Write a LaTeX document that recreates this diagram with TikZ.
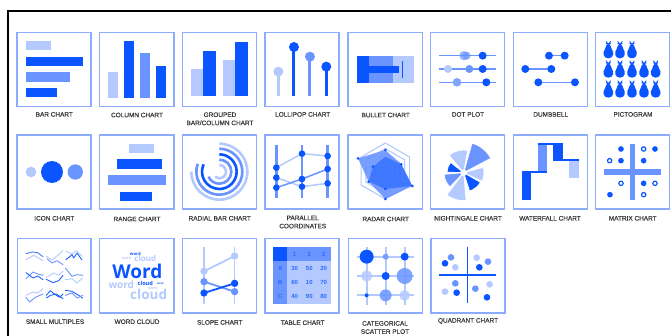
\documentclass[tikz,border=0pt]{standalone}
\usepackage{fontspec}
\setmainfont{Liberation Sans}
\newfontfamily\wcfont{Open Sans}
\newfontfamily\lblfont[FakeBold=0.35]{Liberation Sans}
\definecolor{dk}{HTML}{0A55FF}
\definecolor{md}{HTML}{6A94FF}
\definecolor{lt}{HTML}{B4CAFF}
\definecolor{fr}{HTML}{8CADFF}
\definecolor{tx}{HTML}{3A3A3A}
\tikzset{
  zs/.style={shift={(#1)},x=.3333pt,y=-.3333pt},
  panel/.style={draw=fr,line width=1.35pt,fill=white},
  lbl/.style={font=\lblfont\fontsize{6.45}{7.2}\selectfont,text=tx,inner sep=0pt,align=center},
  stem/.style={line width=3pt},
  gridl/.style={line width=2pt},
  dot/.style={fill=dk},
  cellnum/.style={font=\fontsize{6}{6}\selectfont\bfseries,text=dk!65!md,inner sep=0pt},
  wc/.style={inner sep=0pt,font=\wcfont\bfseries},
  thin/.style={line width=.9pt,line join=round,line cap=round},
  wedgeb/.style={draw=white,line width=.7pt,line join=miter},
}
\newcommand{\wdg}[4]{\fill[#1,wedgeb] (#2:9) -- (#2:#4) arc[start angle=#2,end angle=#3,radius=#4] -- (#3:9) -- cycle;}
\newcommand{\pear}[2]{%
  \begin{scope}[shift={(#1,#2)}]
    \fill[dk] (0,8) .. controls (7,8) and (7,17) .. (10,23) .. controls (18,33) and (16,51) .. (0,51)
      .. controls (-16,51) and (-18,33) .. (-10,23) .. controls (-7,17) and (-7,8) .. (0,8) -- cycle;
    \draw[dk,line width=.8pt] (0,9) -- (-7,0) (-7,6) -- (0,10) (0,9) -- (7,0) (7,6) -- (0,10);
  \end{scope}}
\begin{document}
\begin{tikzpicture}[x=1pt,y=-1pt]
\useasboundingbox (0,0) rectangle (671,335);
\fill[white] (0,0) rectangle (671,335);
\draw[black,line width=2pt] (8,336) -- (8,11) -- (672,11);

% panels
\foreach \a/\b in {17/91,99.7/174,182.3/256.3,265/339,348/422.3,430.7/504.7,513.3/587.3,595.7/669.7}{
  \draw[panel] (\a,32.3) rectangle (\b,106.5);}
\foreach \a/\b in {17/91,99.7/174,182.3/256.3,265/339,348/422.3,430.7/504.7,513.3/587.3,595.7/669.7}{
  \draw[panel] (\a,135) rectangle (\b,209);}
\foreach \a/\b in {17.3/91,99.7/174,182.3/256.3,265/339,348.3/422.3,431/505}{
  \draw[panel] (\a,238.3) rectangle (\b,313);}

% row 1, left
\begin{scope}[zs={0,0}]
  \fill[lt] (78,122) rectangle (153,150);
  \fill[dk] (78,170) rectangle (248,198);
  \fill[md] (78,217) rectangle (210,245);
  \fill[dk] (78,264) rectangle (172,292);
  \fill[lt] (325,217) rectangle (353,294);
  \fill[dk] (372,122) rectangle (401,294);
  \fill[md] (420,160) rectangle (449,294);
  \fill[dk] (468,198) rectangle (497,294);
  \fill[lt] (573,207) rectangle (610,288);
  \fill[dk] (610,154) rectangle (648,288);
  \fill[lt] (669,181) rectangle (706,288);
  \fill[dk] (706,127) rectangle (744,288);
  \foreach \x/\y/\c in {835/215/lt,882/141/dk,930/170/md,979/200/dk}{
    \draw[\c,stem] (\x,\y) -- (\x,288);
    \fill[\c] (\x,\y) circle[radius=15];}
\end{scope}

% row 1, right
\begin{scope}[zs={340,0}]
  \fill[lt] (50,168) rectangle (222,248);
  \fill[md] (50,168) rectangle (160,248);
  \fill[dk] (50,168) rectangle (87,248);
  \fill[dk] (87,198) rectangle (176,218);
  \fill[dk] (185,183) rectangle (190,233);
  \foreach \y in {167,207,247}{\draw[md,line width=1.4pt] (298,\y) -- (468,\y);}
  \fill[md,opacity=.7] (372,167) circle[radius=14];
  \fill[md,opacity=.7] (380,167) circle[radius=12];
  \fill[lt] (324,207) circle[radius=12];
  \fill[md] (388,207) circle[radius=12];
  \fill[md!70!lt] (351,247) circle[radius=13];
  \fill[dk] (428,167) circle[radius=12];
  \fill[dk] (428,207) circle[radius=12];
  \fill[dk] (439,247) circle[radius=12];
  \foreach \p/\q/\y in {627/674/167,556/634/207,595/705/247}{
    \draw[md,line width=1.4pt] (\p,\y) -- (\q,\y);
    \fill[dk] (\p,\y) circle[radius=12];
    \fill[dk] (\q,\y) circle[radius=12];}
\end{scope}

% pictogram
\begin{scope}[zs={595,32}]
  \foreach \x in {40,75,111}{\pear{\x}{28}}
  \foreach \x in {40,75,111,147,182}{\pear{\x}{86}}
  \foreach \x in {40,75,111,147,182}{\pear{\x}{146}}
\end{scope}

% row 2, left
\begin{scope}[zs={0,125}]
  \fill[lt] (93,141) circle[radius=16];
  \fill[dk] (156,141) circle[radius=33];
  \fill[md] (226,141) circle[radius=23];
  \fill[lt] (387,56) rectangle (463,84);
  \fill[dk] (350,103) rectangle (485,133);
  \fill[md] (325,151) rectangle (497,181);
  \fill[dk] (359,200) rectangle (455,228);
\end{scope}

% radial and parallel
\begin{scope}[zs={182,135}]
  \foreach \r/\e/\c in {84/180/lt,69/200/md,52/205/dk,36/155/md,20/130/lt}{
    \draw[\c,line width=2.6pt] (112,110-\r) arc[start angle=-90,end angle=\e,radius=\r];}
  \foreach \x in {283,360,437}{\draw[md,line width=2.4pt] (\x,30) -- (\x,190);}
  \draw[lt,line width=1.5pt] (283,98) -- (360,56) -- (437,63);
  \draw[lt,line width=1.5pt] (283,128) -- (360,155) -- (437,145);
  \draw[md,line width=1.5pt] (283,158) -- (360,132) -- (437,102);
  \foreach \x/\y in {283/98,360/56,437/63,283/128,360/155,437/145,283/158,360/132,437/102}{
    \fill[dk] (\x,\y) circle[radius=10];}
\end{scope}

% radar and nightingale
\begin{scope}[zs={348,135}]
  \foreach \r in {84,67,50,33,16}{
    \draw[lt,line width=1.1pt,shift={(112,108)}] (90:\r) -- (30:\r) -- (-30:\r) -- (-90:\r) -- (-150:\r) -- (150:\r) -- cycle;}
  \fill[md,opacity=.9] (112,45) -- (160,88) -- (193,153) -- (112,192) -- (62,140) -- (30,70) -- cycle;
  \fill[dk,opacity=.5] (112,65) -- (160,88) -- (193,153) -- (112,162) -- (62,140) -- (75,95) -- cycle;
  \foreach \x/\y in {112/45,160/88,193/153,112/192,62/140,30/70,75/95,112/162}{
    \fill[dk] (\x,\y) circle[radius=4.5];}
  \begin{scope}[shift={(347,113)},y=.3333pt]
    \wdg{md}{28}{74}{92}
    \wdg{lt}{80}{130}{68}
    \wdg{dk}{142}{178}{50}
    \wdg{md}{185}{226}{59}
    \wdg{lt}{233}{275}{84}
    \wdg{dk}{288}{330}{58}
    \wdg{lt}{335}{375}{61}
  \end{scope}
\end{scope}

% waterfall and matrix
\begin{scope}[zs={340,125}]
  \fill[dk] (545,140) rectangle (574,226);
  \fill[md] (593,57) rectangle (622,142);
  \fill[dk] (639,57) rectangle (668,105);
  \fill[lt] (687,107) rectangle (716,158);
  \fill[dk] (545,138) rectangle (622,143);
  \fill[dk] (593,55) rectangle (668,60);
  \fill[dk] (639,103) rectangle (716,108);
  \fill[md] (869,56) rectangle (886,226);
  \fill[md] (793,133) rectangle (962,150);
  \foreach \x/\y in {843/72,945/72,843/107,911/107,911/175,810/209}{
    \fill[dk] (\x,\y) circle[radius=8.5];}
  \foreach \x/\y in {911/72,809/107,843/175,945/175,911/209}{
    \draw[dk,line width=1.2pt,fill=white] (\x,\y) circle[radius=6.5];}
\end{scope}

% small multiples and word cloud
\begin{scope}[zs={17,238}]
  \begin{scope}[thin]
    \draw[lt] (27,65) -- (50,52) -- (78,68);
    \draw[md!60!dk] (27,47) -- (45,42) -- (62,44) -- (78,56);
    \draw[lt] (88,55) -- (105,66) -- (125,50) -- (138,38);
    \draw[md] (90,62) -- (105,75) -- (120,68) -- (138,80);
    \draw[lt] (147,40) -- (165,48) -- (178,38) -- (195,55);
    \draw[dk!80!md] (147,65) -- (165,50) -- (170,60) -- (180,45) -- (195,66);
    \draw[md] (27,122) -- (48,102) -- (62,108) -- (78,112);
    \draw[dk!80!md] (27,104) -- (48,120) -- (62,114) -- (78,125);
    \draw[lt] (88,118) -- (110,105) -- (125,112) -- (138,100);
    \draw[dk!80!md] (88,124) -- (108,134) -- (125,128) -- (138,112);
    \draw[md] (145,90) -- (165,115) -- (180,110) -- (197,112);
    \draw[lt] (145,125) -- (165,122) -- (180,135) -- (197,120);
    \draw[lt] (27,172) -- (48,162) -- (62,165) -- (78,152);
    \draw[md] (27,178) -- (38,192) -- (55,178) -- (78,168);
    \draw[dk!80!md] (88,172) -- (100,158) -- (115,170) -- (128,178) -- (138,168);
    \draw[dk!80!md] (88,180) -- (100,172) -- (118,168) -- (138,182);
    \draw[dk!80!md] (145,157) -- (165,160) -- (182,170) -- (197,180);
    \draw[md] (145,172) -- (165,165) -- (180,180) -- (197,172);
  \end{scope}
  \node[wc,text=lt,font=\wcfont\bfseries\fontsize{13.5}{14}\selectfont] (wc1) at (395,170) {cloud};
  \node[wc,text=lt,font=\wcfont\bfseries\fontsize{10}{11}\selectfont] (wc2) at (313,140) {word};
  \node[wc,text=lt,font=\wcfont\bfseries\fontsize{8}{9}\selectfont] (wc3) at (385,62) {cloud};
  \node[wc,text=lt,font=\wcfont\bfseries\fontsize{3.5}{4}\selectfont] (wc4) at (328,60) {word};
  \node[wc,text=lt,font=\wcfont\bfseries\fontsize{3.5}{4}\selectfont] (wc5) at (407,152) {word};
  \node[wc,text=dk,font=\wcfont\bfseries\fontsize{19}{20}\selectfont] (wc6) at (361,99) {Word};
  \node[wc,text=dk,font=\wcfont\bfseries\fontsize{4.2}{5}\selectfont] (wc7) at (355,47) {word};
  \node[wc,text=dk,font=\wcfont\bfseries\fontsize{5.6}{6}\selectfont] (wc8) at (385,137) {cloud};
  \node[wc,text=dk,font=\wcfont\bfseries\fontsize{2.6}{3}\selectfont] (wc9) at (430,137) {word};
\end{scope}

% slope
\begin{scope}[zs={0,230}]
  \foreach \x in {612,704}{\draw[lt,line width=1.6pt] (\x,52) -- (\x,222);}
  \draw[lt,line width=1.8pt] (612,124) -- (704,78);
  \draw[md,line width=1.8pt] (612,155) -- (704,185);
  \draw[dk,line width=1.8pt] (612,189) -- (704,160);
  \foreach \x/\y/\c in {612/124/lt,704/78/lt,612/155/md,704/185/md,612/189/dk,704/160/dk}{
    \fill[\c] (\x,\y) circle[radius=11];}
\end{scope}

% table, scatter, quadrant
\begin{scope}[zs={255,230}]
  \fill[lt] (55,50) rectangle (228,222);
  \fill[md] (55,50) rectangle (228,93);
  \fill[md] (55,93) rectangle (97,222);
  \fill[dk] (55,50) rectangle (97,93);
  \foreach \x/\t [count=\i] in {119/1,163/2,206/3}{\node[cellnum] (h\i) at (\x,72) {\t};}
  \foreach \y/\t [count=\i] in {115/A,157/B,200/C}{\node[cellnum] (r\i) at (76,\y) {\t};}
  \foreach \x/\y/\t [count=\i] in {119/115/30,163/115/50,206/115/20,119/157/60,163/157/10,206/157/70,119/200/40,163/200/90,206/200/80}{
    \node[cellnum] (c\i) at (\x,\y) {\t};}
  \foreach \y in {80,138,196}{\draw[gridl,color=lt] (305,\y) -- (478,\y);}
  \foreach \x in {335,392,449}{\draw[gridl,color=lt] (\x,52) -- (\x,225);}
  \foreach \x/\y/\r/\c in {392/80/9/md,335/138/17/lt,449/138/24/md,392/196/18/md,449/196/16/lt}{
    \fill[\c,opacity=.85] (\x,\y) circle[radius=\r];}
  \foreach \x/\y/\r in {335/80/21,449/80/12,392/138/12,335/196/6}{
    \fill[dk] (\x,\y) circle[radius=\r];}
  \draw[dk,line width=1.4pt] (637,50) -- (637,220);
  \draw[dk,line width=1.4pt] (552,135) -- (722,135);
  \foreach \x/\y/\c in {588/82/md,570/100/dk,601/112/lt,665/83/lt,699/95/md,673/112/dk,601/160/md,570/185/lt,605/188/dk,661/176/md,704/163/lt,696/202/dk}{
    \fill[\c] (\x,\y) circle[radius=10];}
\end{scope}

% labels
\node[lbl] (l1) at (54.3,114.4) {BAR CHART};
\node[lbl] (l2) at (137,115) {COLUMN CHART};
\node[lbl] (l3) at (220,118.8) {GROUPED\\[1pt]BAR/COLUMN CHART};
\node[lbl] (l4) at (302.7,114.4) {LOLLIPOP CHART};
\node[lbl] (l5) at (385.7,115) {BULLET CHART};
\node[lbl] (l6) at (468,114.4) {DOT PLOT};
\node[lbl] (l7) at (550.7,114.4) {DUMBBELL};
\node[lbl] (l8) at (633,114.4) {PICTOGRAM};
\node[lbl] (l9) at (54.3,218.3) {ICON CHART};
\node[lbl] (l10) at (137,219) {RANGE CHART};
\node[lbl] (l11) at (219.7,218.3) {RADIAL BAR CHART};
\node[lbl] (l12) at (302.7,222) {PARALLEL\\[1pt]COORDINATES};
\node[lbl] (l13) at (385.7,219) {RADAR CHART};
\node[lbl] (l14) at (468,218.3) {NIGHTINGALE CHART};
\node[lbl] (l15) at (550,218.3) {WATERFALL CHART};
\node[lbl] (l16) at (632.7,218.3) {MATRIX CHART};
\node[lbl] (l17) at (55,321.7) {SMALL MULTIPLES};
\node[lbl] (l18) at (137,321.7) {WORD CLOUD};
\node[lbl] (l19) at (219.7,322.4) {SLOPE CHART};
\node[lbl] (l20) at (302.7,322.7) {TABLE CHART};
\node[lbl] (l21) at (385,327.5) {CATEGORICAL\\[1pt]SCATTER PLOT};
\node[lbl] (l22) at (468,321) {QUADRANT CHART};
\end{tikzpicture}
\end{document}
